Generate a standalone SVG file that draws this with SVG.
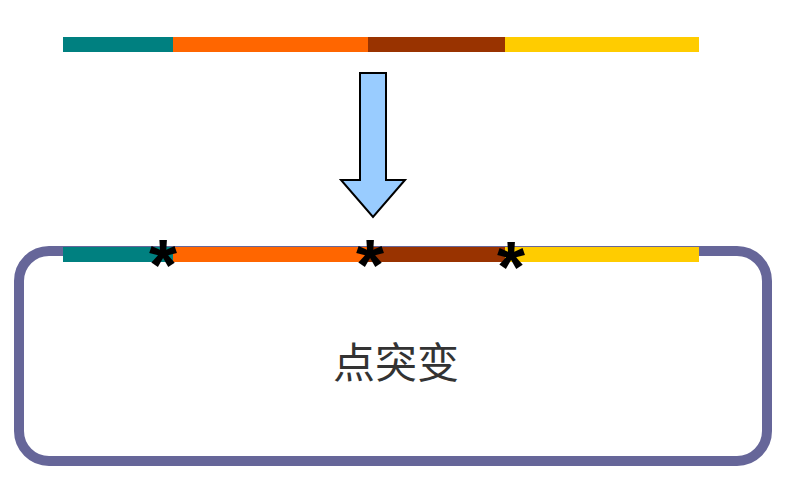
<svg xmlns="http://www.w3.org/2000/svg" width="790" height="499" viewBox="0 0 790 499">
<style>.ast{font-family:"Liberation Sans",sans-serif;font-weight:bold;font-size:72px;fill:#000;text-anchor:middle}</style>
<rect width="790" height="499" fill="#fff"/>
<g id="frame"><rect x="19" y="251" width="748" height="210" rx="30" fill="none" stroke="#666699" stroke-width="10"/></g>
<g id="top-bar">
<rect x="63" y="37" width="110" height="15" fill="#008080"/>
<rect x="173" y="37" width="195" height="15" fill="#FF6600"/>
<rect x="368" y="37" width="137" height="15" fill="#993300"/>
<rect x="505" y="37" width="194" height="15" fill="#FFCC00"/>
</g>
<g id="connectors"><polygon points="360,73 386,73 386,180 405,180 373,217 341,180 360,180" fill="#99CCFF" stroke="#000" stroke-width="2"/></g>
<g id="bottom-bar">
<rect x="63" y="247" width="110" height="15" fill="#008080"/>
<rect x="173" y="247" width="195" height="15" fill="#FF6600"/>
<rect x="368" y="247" width="137" height="15" fill="#993300"/>
<rect x="505" y="247" width="194" height="15" fill="#FFCC00"/>
<text class="ast" x="163" y="290">*</text>
<text class="ast" x="370" y="290">*</text>
<text class="ast" x="511" y="292">*</text>
</g>
<g id="label"><text x="396" y="378" font-family="'Noto Sans CJK SC',sans-serif" font-size="42" fill="#333" text-anchor="middle">点突变</text></g>
</svg>
